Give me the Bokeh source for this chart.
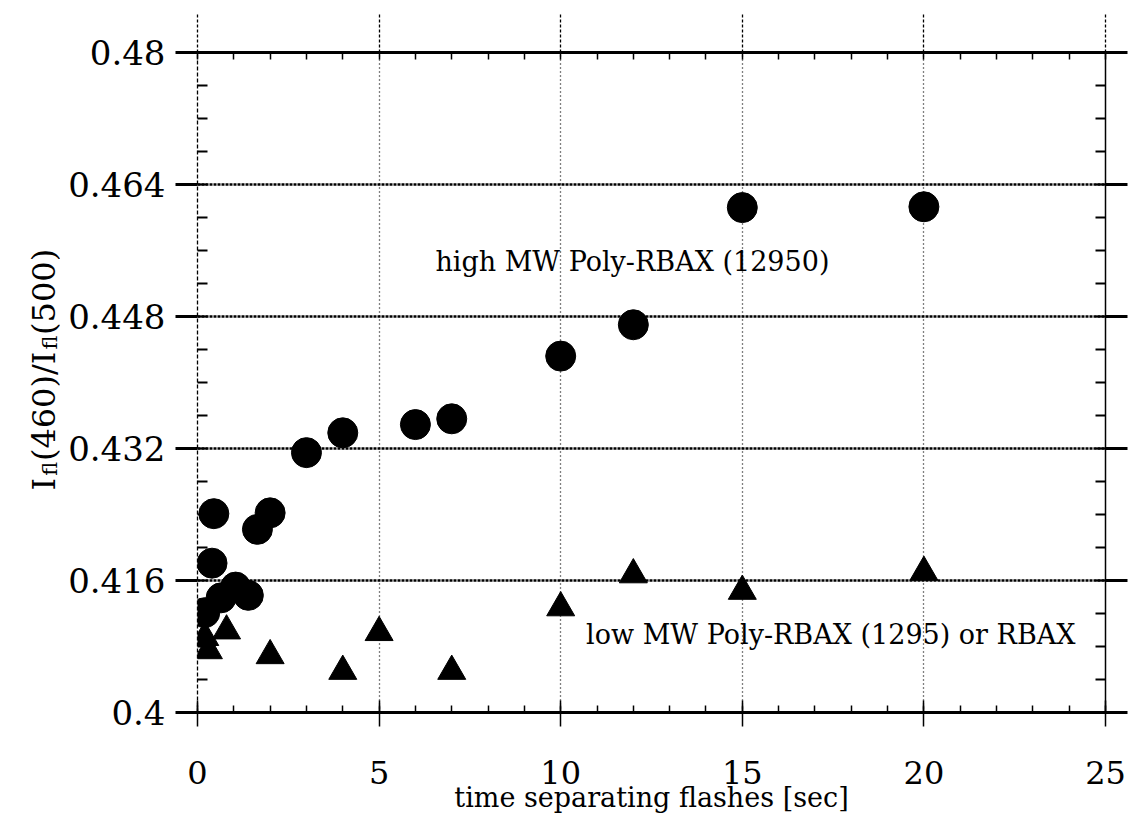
from math import pi
from bokeh.plotting import figure
from bokeh.layouts import row
from bokeh.models import FixedTicker, LinearAxis, Label, Range1d, CustomJSTickFormatter
from bokeh.embed import file_html
from bokeh.resources import INLINE

# ---------------- data ----------------
x_major = [0, 5, 10, 15, 20, 25]
x_minor = [0, 1, 2, 3, 4, 5, 6, 7, 8, 9, 10, 11, 12, 13, 14, 15, 16, 17, 18, 19, 20, 21, 22, 23, 24, 25]
x_labels = ["0", "5", "10", "15", "20", "25"]
y_major = [0.4, 0.416, 0.432, 0.448, 0.464, 0.48]
y_minor = [0.4, 0.404, 0.408, 0.412, 0.416, 0.42, 0.424, 0.428, 0.432, 0.436, 0.44,
           0.444, 0.448, 0.452, 0.456, 0.46, 0.464, 0.468, 0.472, 0.476, 0.48]
y_labels = ["0.4", "0.416", "0.432", "0.448", "0.464", "0.48"]

# high MW Poly-RBAX (12950) -- circles
hi_x = [0.2, 0.4, 0.45, 0.65, 1.05, 1.4, 1.65, 2.0, 3.0, 4.0, 6.0, 7.0, 10.0, 12.0, 15.0, 20.0]
hi_y = [0.4121, 0.4181, 0.4241, 0.4139, 0.4152, 0.4142, 0.4222, 0.4242, 0.4315, 0.4339,
        0.4349, 0.4356, 0.4432, 0.4470, 0.4612, 0.4613]

# low MW Poly-RBAX (1295) or RBAX -- triangles
lo_x = [0.2, 0.3, 0.8, 2.0, 4.0, 5.0, 7.0, 10.0, 12.0, 15.0, 20.0]
lo_y = [0.4091, 0.4075, 0.4099, 0.4069, 0.4050, 0.4097, 0.4050, 0.4127, 0.4167, 0.4147, 0.4170]

hi_text = "high MW Poly-RBAX (12950)"
lo_text = "low MW Poly-RBAX (1295) or RBAX"
x_title = "time separating flashes [sec]"
# y title pieces: (text, is_subscript)
y_title = [("I", False), ("fl", True), ("(460)/I", False), ("fl", True), ("(500)", False)]

FONT = "DejaVu Serif"
H = 816

# ---------------- y title panel (its frame is aligned with the main frame) ----------------
lf = figure(width=60, height=H, x_range=Range1d(0, 60), y_range=Range1d(0, 1),
            output_backend="svg", toolbar_location=None,
            min_border_left=0, min_border_right=0, min_border_top=52, min_border_bottom=104,
            x_axis_location=None, y_axis_location=None)
lf.outline_line_color = None
lf.xgrid.grid_line_color = None
lf.ygrid.grid_line_color = None
lf.background_fill_color = "white"
lf.border_fill_color = "white"

adv = {"I": 14.8, "fl": 14.6, "(460)/I": 111.6, "(500)": 86.0}
pos = 222.0
for txt, sub in y_title:
    lf.add_layout(Label(x=49 if sub else 43, y=pos, x_units="screen", y_units="screen",
                        text=txt, angle=pi / 2,
                        text_font=FONT, text_font_size="21px" if sub else "32px",
                        text_color="black", text_align="left", text_baseline="alphabetic"))
    pos += adv[txt]

# ---------------- main plot ----------------
p = figure(width=1068, height=H, x_range=Range1d(0, 25), y_range=Range1d(0.4, 0.48),
           output_backend="svg", toolbar_location=None,
           min_border_left=137, min_border_right=23, min_border_top=52, min_border_bottom=104)
p.outline_line_color = None
p.background_fill_color = "white"
p.border_fill_color = "white"

xt = FixedTicker(ticks=x_major, minor_ticks=x_minor)
yt = FixedTicker(ticks=y_major, minor_ticks=y_minor)

# grids
p.xgrid.ticker = xt
p.xgrid.grid_line_color = "black"
p.xgrid.grid_line_dash = "1 3"
p.xgrid.grid_line_width = 1.3
p.ygrid.ticker = yt
p.ygrid.grid_line_color = "black"
p.ygrid.grid_line_dash = "3 1"
p.ygrid.grid_line_width = 2.6

# bottom axis
xa = p.xaxis[0]
xa.ticker = xt
xa.major_label_overrides = dict(zip(x_major, x_labels))
xa.axis_line_width = 3
xa.axis_line_color = "black"
xa.major_tick_in = 12
xa.major_tick_out = 14
xa.major_tick_line_width = 1.5
xa.minor_tick_in = 7
xa.minor_tick_out = 0
xa.minor_tick_line_width = 1.5
xa.major_label_text_font = FONT
xa.major_label_text_font_size = "32px"
xa.major_label_text_color = "black"
xa.major_label_standoff = 34
xa.axis_label = x_title
xa.axis_label_text_font = FONT
xa.axis_label_text_font_style = "normal"
xa.axis_label_text_font_size = "27px"
xa.axis_label_text_color = "black"
xa.axis_label_standoff = -5

# left axis
ya = p.yaxis[0]
ya.ticker = yt
ya.major_label_overrides = dict(zip(y_major, y_labels))
ya.axis_line_color = "black"
ya.axis_line_width = 1.3
ya.axis_line_dash = "4 2"
ya.major_tick_in = 0
ya.major_tick_out = 22
ya.major_tick_line_width = 3
ya.minor_tick_in = 10
ya.minor_tick_out = 0
ya.minor_tick_line_width = 2
ya.major_label_text_font = FONT
ya.major_label_text_font_size = "34px"
ya.major_label_text_color = "black"
ya.major_label_standoff = 10

blank = CustomJSTickFormatter(code="return ''")

# right axis
ra = LinearAxis(ticker=yt, formatter=blank)
ra.axis_line_color = "black"
ra.axis_line_width = 1.5
ra.major_tick_in = 0
ra.major_tick_out = 22
ra.major_tick_line_width = 3
ra.minor_tick_in = 10
ra.minor_tick_out = 0
ra.minor_tick_line_width = 2
ra.major_label_standoff = 0
p.add_layout(ra, "right")

# top axis
ta = LinearAxis(ticker=xt, formatter=blank)
ta.axis_line_color = "black"
ta.axis_line_width = 3
ta.major_tick_in = 0
ta.major_tick_out = 38
ta.major_tick_line_width = 1.3
ta.major_tick_line_dash = "3 2"
ta.minor_tick_in = 7
ta.minor_tick_out = 0
ta.minor_tick_line_width = 1.5
ta.major_label_standoff = 0
p.add_layout(ta, "above")

# data
p.scatter(hi_x, hi_y, marker="circle", size=30, fill_color="black", line_color="black")
p.scatter(lo_x, lo_y, marker="triangle", size=28, fill_color="black", line_color="black")

# annotations
p.add_layout(Label(x=6.55, y=0.4547, text=hi_text, text_font=FONT, text_font_size="27px",
                   text_color="black", text_baseline="alphabetic"))
p.add_layout(Label(x=10.7, y=0.4095, text=lo_text, text_font=FONT, text_font_size="27px",
                   text_color="black", text_baseline="alphabetic"))

open("out.html", "w").write(file_html(row(lf, p), INLINE))
